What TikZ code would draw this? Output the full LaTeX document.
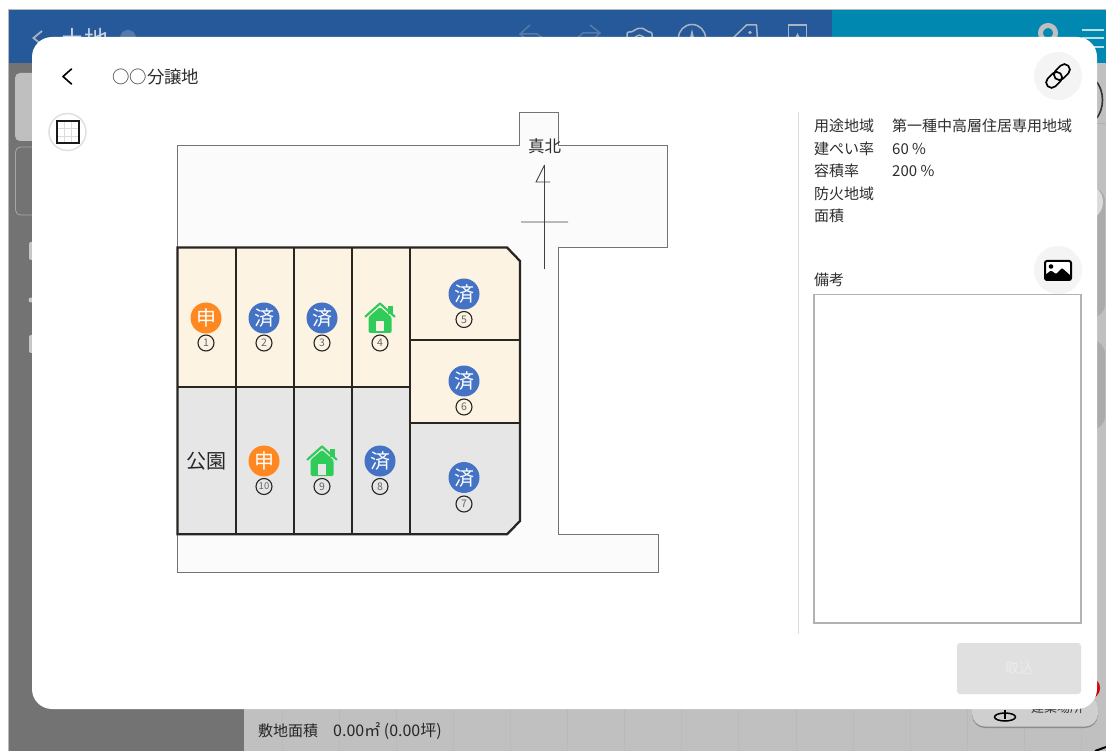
\documentclass[tikz,border=0pt]{standalone}
\usepackage{fontspec}
\setmainfont{Noto Sans CJK JP}[Scale=1]
\definecolor{hblue}{RGB}{37,89,153}
\definecolor{hteal}{RGB}{0,136,176}
\definecolor{dimL}{RGB}{115,115,115}
\definecolor{dimR}{RGB}{192,192,192}
\definecolor{lotY}{RGB}{253,243,227}
\definecolor{lotG}{RGB}{230,230,230}
\definecolor{site}{RGB}{251,251,251}
\definecolor{lotline}{RGB}{40,38,34}
\definecolor{bblue}{RGB}{68,114,196}
\definecolor{borange}{RGB}{255,137,32}
\definecolor{bgreen}{RGB}{48,204,90}
\definecolor{txt}{RGB}{45,45,45}
\definecolor{ghost}{RGB}{170,180,195}
\definecolor{ghostd}{RGB}{85,122,170}
\newcommand{\fs}[1]{\fontsize{#1}{#1}\selectfont}
\tikzset{
  x=1pt,y=-1pt,
  lbl/.style={anchor=west,inner sep=0pt,text=txt,font=\fs{15}},
  badgeb/.style={circle,fill=bblue,text=white,minimum size=31pt,inner sep=0pt,font=\fs{20}},
  badgeo/.style={circle,fill=borange,text=white,minimum size=31pt,inner sep=0pt,font=\fs{20}},
  num/.style={circle,draw=black!85,line width=1.1pt,fill=none,minimum size=16pt,inner sep=0pt,text=black!60,font=\fs{10.5}},
  lotborder/.style={draw=lotline,line width=2.3pt},
  iconbg/.style={circle,fill=black!4.5,minimum size=48pt,inner sep=0pt},
  ghostline/.style={draw=ghost,line width=1.5pt},
}
\newcommand{\house}[3]{%
  \begin{scope}[shift={(#1,#2)}]
    \fill[bgreen,rounded corners=1.5pt] (-11.5,-1) -- (0,-11) -- (11.5,-1) -- (11.5,15) -- (-11.5,15) -- cycle;
    \fill[#3] (-3.8,3) rectangle (3.8,13.5);
    \fill[bgreen] (8,-12) rectangle (12.5,-4);
    \draw[bgreen,line width=2.2pt,line cap=round,line join=round] (-14.5,-1.5) -- (0,-14.5) -- (14.5,-1.5);
  \end{scope}}
\begin{document}
\begin{tikzpicture}
\useasboundingbox (0,0) rectangle (1106,751);
% page and dimmed application behind the dialog
\fill[white] (0,0) rectangle (1106,751);
\fill[dimL] (8,63) rectangle (244,751);
\fill[dimR] (244,63) rectangle (1106,751);
\fill[hblue] (8,10) rectangle (832,63);
\fill[hteal] (832,10) rectangle (1106,63);
\draw[black!28,line width=.8pt] (8,751) -- (8,9.6) -- (1106,9.6);
\foreach \gx in {282,339,396,453,510,567,624,681,738,796,853,910,967,1024,1081}{
  \draw[black!27,line width=.6pt] (\gx,700) -- (\gx,751);}
\node[anchor=west,inner sep=0pt,text=white!75!hblue,font=\fs{24}] (apptitle) at (60,39) {土地};
\draw[ghost,line width=1.8pt] (42,31) -- (33.5,38) -- (42,45);
\fill[ghostd] (128,38) circle (8);
% header icons
\draw[ghostd,line width=1.5pt] (530,25) -- (520,34) -- (530,42) (520,34) -- (537,34) -- (546,40);
\draw[ghostd,line width=1.5pt] (590,25) -- (600,33) -- (590,42) (600,33) -- (583,33) -- (575,40);
\draw[ghostline,rounded corners=2pt] (627,44) -- (627,32) -- (633,32) -- (636,28.5) -- (645,28.5) -- (647,32) -- (652,32) -- (652,44);
\draw[ghost,line width=1.3pt] (639.5,40) circle (5);
\draw[ghostline] (692,38) circle (13.5);
\fill[ghost] (692,29) -- (695,42) -- (689,42) -- cycle;
\draw[ghostline,line join=round] (731,40) -- (746.5,25) -- (756.5,25) -- (757.5,40);
\fill[ghost] (750,32.5) circle (1.8);
\draw[ghostline] (788.5,44) -- (788.5,25) -- (806.5,25) -- (806.5,44);
\fill[ghost] (797.5,33) -- (800,38) -- (795,38) -- cycle;
% person and menu
\draw[black!25,line width=5pt] (1048,33) circle (7.5);
\foreach \hy in {30,38.5,47}{\draw[white!72!hteal,line width=2pt] (1082,\hy) -- (1104,\hy);}
% left panel
\fill[black!25,rounded corners=5pt] (15,73) rectangle (60,141);
\draw[black!35,line width=.8pt,rounded corners=5pt] (15.5,147) rectangle (60,215);
\fill[white!78!black,rounded corners=2pt] (29,242) rectangle (40,260);
\fill[white!78!black] (31,300) circle (2.5);
\fill[white!78!black,rounded corners=2pt] (29,335) rectangle (40,353);
% right edge
\draw[black!80,line width=1.6pt] (1095,80) .. controls (1105,90) and (1105,110) .. (1095,120);
\draw[black!30,line width=.6pt] (1097,123) -- (1106,123);
\fill[black!33,rounded corners=14pt] (1070,187) rectangle (1105,318);
\fill[black!14] (1085,202) circle (18);
\fill[black!33,rounded corners=14pt] (1070,340) rectangle (1105,430);
% bottom right button
\fill[red!82!black] (1089,688) circle (11);
\fill[black!45,rounded corners=13pt] (972,695) rectangle (1098,728);
\fill[black!19,rounded corners=13pt] (972,695) rectangle (1098,726.5);
\draw[black,line width=1.5pt] (1005,710) -- (1005,719);
\draw[black,line width=1.5pt] (1005,717) ellipse (10.5 and 4);
\node[anchor=west,inner sep=0pt,text=black!80,font=\fs{13}] (place) at (1031,708) {建築場所};
\draw[black,line width=2pt] (1095,751) -- (1106,747);
\node[anchor=west,inner sep=0pt,text=black!85,font=\fs{15}] (area) at (258,731) {敷地面積};
\node[anchor=west,inner sep=0pt,text=black!85,font=\fs{16}] (areav) at (333,731) {0.00㎡ (0.00坪)};

% dialog
\fill[white,rounded corners=20pt] (32,37) rectangle (1097,709);
\draw[black,line width=1.6pt,line cap=round,line join=round] (71.5,69) -- (63,76.5) -- (71.5,84);
\node[lbl,font=\fs{17.4}] (title) at (112,77) {○○分譲地};
% grid icon
\draw[black!12,fill=white,line width=1.5pt] (67.5,132) circle (18.5);
\draw[black!14,line width=.8pt] (64,122) -- (64,143) (71,122) -- (71,143) (57,128.5) -- (78,128.5) (57,136) -- (78,136);
\draw[black!90,line width=2pt] (57,121.5) rectangle (78.5,143);

% site
\path[fill=site,draw=black!55,line width=1pt]
  (177.5,145.5) -- (519.5,145.5) -- (519.5,113) -- (558.5,113) -- (558.5,145.5) -- (667.5,145.5) -- (667.5,247.5) -- (558,247.5)
  -- (558,534) -- (658,534) -- (658,572.7) -- (177.5,572.7) -- cycle;
% lots
\fill[lotY] (177.5,247.5) -- (507,247.5) -- (520,261) -- (520,422.7) -- (409.7,422.7) -- (409.7,387) -- (177.5,387) -- cycle;
\fill[lotG] (177.5,387) -- (409.7,387) -- (409.7,422.7) -- (520,422.7) -- (520,521) -- (507,534.3) -- (177.5,534.3) -- cycle;
\draw[lotborder] (235.7,247.5) -- (235.7,534.3) (293.7,247.5) -- (293.7,534.3) (351.7,247.5) -- (351.7,534.3) (409.7,247.5) -- (409.7,534.3)
  (177.5,387.3) -- (409.7,387.3) (409.7,340.3) -- (520,340.3) (409.7,422.7) -- (520,422.7);
\draw[lotborder,line join=miter] (177.5,247.5) -- (507,247.5) -- (520,261) -- (520,521) -- (507,534.3) -- (177.5,534.3) -- cycle;

% compass
\draw[black!75,line width=.9pt] (544.5,165) -- (544.5,269) (521,222) -- (568,222) (544.5,165) -- (536,182) -- (550,182);
\node[inner sep=0pt,text=txt,font=\fs{16.5}] (north) at (544.5,146) {真北};

% badges
\node[badgeo] (b1) at (206,318) {申};
\node[num] (n1) at (206,343) {1};
\node[badgeb] (b2) at (264,318) {済};
\node[num] (n2) at (264,343) {2};
\node[badgeb] (b3) at (322,318) {済};
\node[num] (n3) at (322,343) {3};
\house{380}{318}{lotY}
\node[num] (n4) at (380,343) {4};
\node[badgeb] (b5) at (464,294) {済};
\node[num] (n5) at (464,319.5) {5};
\node[badgeb] (b6) at (464,381) {済};
\node[num] (n6) at (464,407) {6};
\node[badgeb] (b7) at (464,477.5) {済};
\node[num] (n7) at (464,504) {7};
\node[inner sep=0pt,text=black!85,font=\fs{20}] (park) at (206,461.5) {公園};
\node[badgeo] (b10) at (264,461) {申};
\node[num,font=\fs{9.5}] (n10) at (264,486.5) {10};
\house{322}{461}{lotG}
\node[num] (n9) at (322,486.5) {9};
\node[badgeb] (b8) at (380,461) {済};
\node[num] (n8) at (380,486.5) {8};

% right panel
\draw[black!13,line width=1pt] (798.5,112) -- (798.5,634);
\node[lbl] (k1) at (814,126) {用途地域};
\node[lbl] (v1) at (892,126) {第一種中高層住居専用地域};
\node[lbl] (k2) at (814,149) {建ぺい率};
\node[lbl] (v2) at (892,149) {60 \%};
\node[lbl] (k3) at (814,171) {容積率};
\node[lbl] (v3) at (892,171) {200 \%};
\node[lbl] (k4) at (814,194) {防火地域};
\node[lbl] (k5) at (814,216) {面積};
\node[lbl] (k6) at (814,280) {備考};
\draw[black!30,line width=1.1pt] (814,294.5) rectangle (1081,623);
% link icon
\node[iconbg] (linkbg) at (1058,76) {};
\begin{scope}[shift={(1058,76)},rotate=45]
  \draw[black,line width=1.7pt,rounded corners=5.4pt] (-14.5,-5.5) rectangle (3.5,5.5);
  \draw[black,line width=1.7pt,rounded corners=5.4pt] (-3.5,-5.5) rectangle (14.5,5.5);
\end{scope}
% image icon
\node[iconbg] (imgbg) at (1058,270) {};
\draw[black,fill=white,line width=2pt,rounded corners=2pt] (1045,261) rectangle (1071,280);
\fill[black] (1051,266.5) circle (2.3);
\fill[black,rounded corners=1pt] (1045,280) -- (1045,275) -- (1051,270.5) -- (1056,274) -- (1062,268) -- (1071,276) -- (1071,280) -- cycle;
% button
\fill[black!12,rounded corners=3pt] (957,643) rectangle (1081,694);
\node[inner sep=0pt,text=white!92!black,font=\fs{14.5}] (btn) at (1019,668) {取込};
\end{tikzpicture}
\end{document}
